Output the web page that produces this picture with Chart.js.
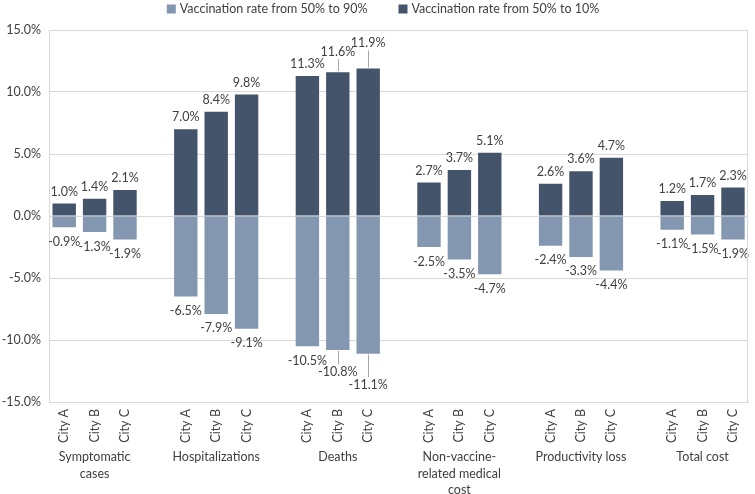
<!DOCTYPE html>
<html><head><meta charset="utf-8">
<script src="https://cdn.jsdelivr.net/npm/chart.js@4"></script>
<style>html,body{margin:0;padding:0;background:#fff}#wrap{width:755px;height:494px}</style>
</head><body><div id="wrap"><canvas id="c" width="755" height="494"></canvas></div>
<script>
const groups = [["Symptomatic","cases"],["Hospitalizations"],["Deaths"],["Non-vaccine-","related medical","cost"],["Productivity loss"],["Total cost"]];
const cities = ["City A","City B","City C"];
const rate50to90 = [[-0.9,-1.3,-1.9],[-6.5,-7.9,-9.1],[-10.5,-10.8,-11.1],[-2.5,-3.5,-4.7],[-2.4,-3.3,-4.4],[-1.1,-1.5,-1.9]];
const rate50to10 = [[1.0,1.4,2.1],[7.0,8.4,9.8],[11.3,11.6,11.9],[2.7,3.7,5.1],[2.6,3.6,4.7],[1.2,1.7,2.3]];
const yTicks = [15,10,5,0,-5,-10,-15];

const labels=[], dNeg=[], dPos=[], groupMid=[];
groups.forEach((g,gi)=>{
  cities.forEach((c,ci)=>{ if(ci===1) groupMid.push(labels.length); labels.push(c); dNeg.push(rate50to90[gi][ci]); dPos.push(rate50to10[gi][ci]); });
  if(gi<groups.length-1){ labels.push(""); dNeg.push(null); dPos.push(null); }
});

const FONT = "Lato, 'Open Sans', sans-serif";
const TXT = "#404040";
const extraPos = {9:8, 10:13};
const extraNeg = {9:8, 10:17};

const labelPlugin = {
  id:'vlabels',
  afterDatasetsDraw(chart){
    const ctx=chart.ctx;
    ctx.save();
    ctx.font="12.5px "+FONT; ctx.fillStyle=TXT; ctx.textAlign="center"; ctx.textBaseline="middle";
    chart.data.datasets.forEach((ds,di)=>{
      const meta=chart.getDatasetMeta(di);
      meta.data.forEach((el,i)=>{
        const v=ds.data[i]; if(v===null) return;
        let y, ex;
        if(v>=0){ ex=extraPos[i]||0; y=el.y-12-ex;
          if(ex){ctx.strokeStyle="#a6a6a6";ctx.lineWidth=1;ctx.beginPath();ctx.moveTo(Math.round(el.x)+0.5,y+7);ctx.lineTo(Math.round(el.x)+0.5,el.y-1);ctx.stroke();}
        } else { ex=extraNeg[i]||0; y=el.y+14.5+ex;
          if(ex){ctx.strokeStyle="#a6a6a6";ctx.lineWidth=1;ctx.beginPath();ctx.moveTo(Math.round(el.x)+0.5,el.y+1);ctx.lineTo(Math.round(el.x)+0.5,y-8);ctx.stroke();}
        }
        ctx.fillText(v.toFixed(1)+"%", el.x, y);
      });
    });
    ctx.restore();
  }
};
const groupPlugin = {
  id:'glabels',
  afterDraw(chart){
    const ctx=chart.ctx, xs=chart.scales.x, a=chart.chartArea;
    ctx.save();
    ctx.strokeStyle="#d9d9d9"; ctx.lineWidth=1; ctx.beginPath();
    ctx.moveTo(Math.round(a.right)-0.5,a.top); ctx.lineTo(Math.round(a.right)-0.5,a.bottom); ctx.stroke();
    ctx.font="12.5px "+FONT; ctx.fillStyle=TXT; ctx.textAlign="center"; ctx.textBaseline="middle";
    groups.forEach((g,gi)=>{
      const x=xs.getPixelForValue(groupMid[gi]);
      g.forEach((line,li)=>ctx.fillText(line,x,xs.top+55+li*16.5));
    });
    ctx.restore();
  }
};
const legendPlugin = {
  id:'toplegend',
  afterDraw(chart){
    const ctx=chart.ctx; ctx.save();
    ctx.font="12.5px "+FONT; ctx.textBaseline="middle"; ctx.textAlign="left";
    const items=chart.data.datasets.map(d=>({t:d.label,c:d.backgroundColor,w:ctx.measureText(d.label).width}));
    const box=9, gap=4, spacing=31;
    const total=items.reduce((s,it)=>s+box+gap+it.w,0)+spacing*(items.length-1);
    let x=383-total/2; const y=9;
    items.forEach(it=>{
      ctx.fillStyle=it.c; ctx.fillRect(x,y-4.5,box,box);
      ctx.fillStyle=TXT; ctx.fillText(it.t,x+box+gap,y);
      x+=box+gap+it.w+spacing;
    });
    ctx.restore();
  }
};

new Chart(document.getElementById('c'),{
  type:'bar',
  data:{labels,datasets:[
    {label:"Vaccination rate from 50% to 90%",data:dNeg,backgroundColor:"#8497B0",stack:'s'},
    {label:"Vaccination rate from 50% to 10%",data:dPos,backgroundColor:"#44546A",stack:'s'}
  ]},
  options:{
    responsive:false,animation:false,
    layout:{padding:{left:0,right:1,top:30,bottom:0}},
    datasets:{bar:{categoryPercentage:1,barPercentage:0.77}},
    plugins:{
      legend:{display:false},
      tooltip:{enabled:false}
    },
    scales:{
      x:{stacked:true,grid:{display:false,drawTicks:false},border:{color:"#d9d9d9"},
        ticks:{minRotation:90,maxRotation:90,autoSkip:false,font:{family:FONT,size:12.5},color:TXT,padding:7},
        afterFit(s){s.height=92;}},
      y:{stacked:true,min:-15,max:15,
        afterBuildTicks(s){s.ticks=yTicks.map(v=>({value:v}));},
        ticks:{callback:v=>v.toFixed(1)+"%",font:{family:FONT,size:12.5},color:TXT,padding:8},
        grid:{color:"#d9d9d9",drawTicks:false},border:{color:"#d9d9d9"},
        afterFit(s){s.width=49;}}
    }
  },
  plugins:[labelPlugin,groupPlugin,legendPlugin]
});
</script></body></html>
